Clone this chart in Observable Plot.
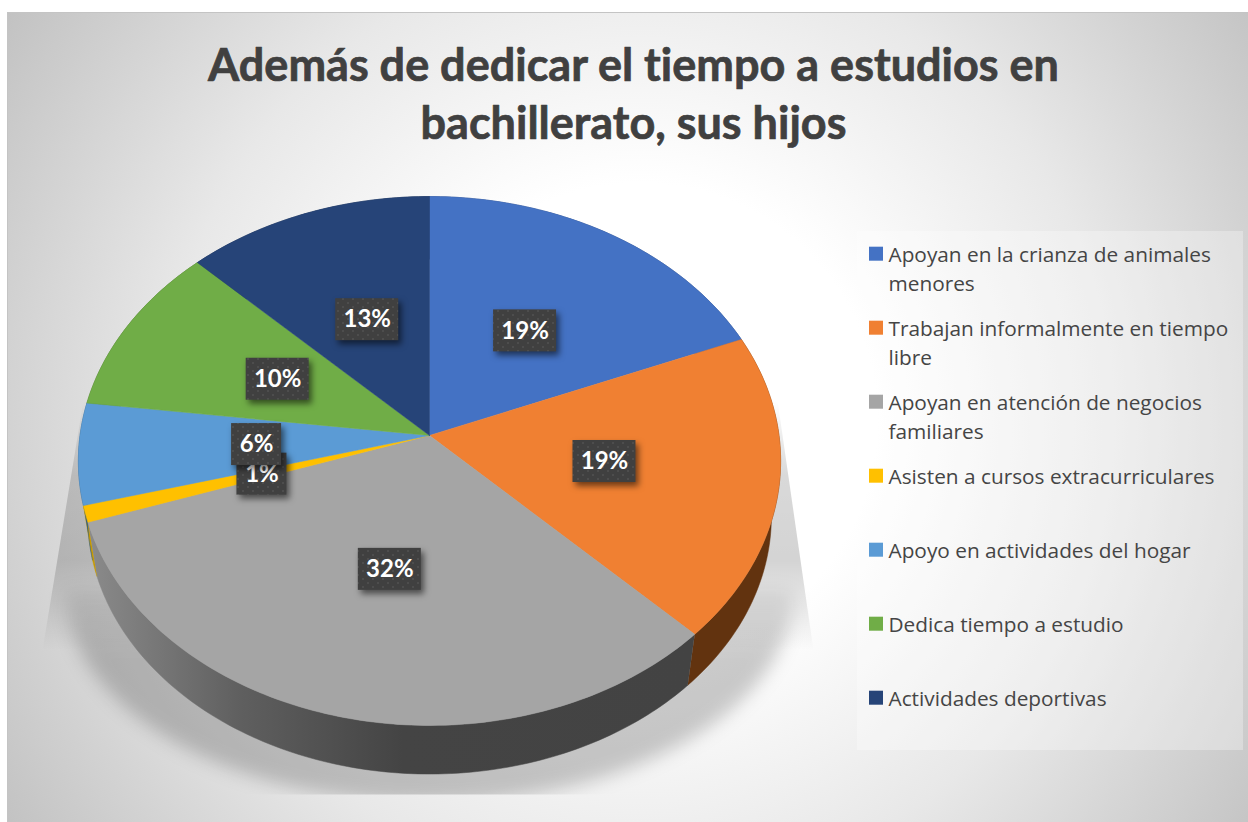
<!DOCTYPE html>
<html lang="es">
<head>
<meta charset="utf-8">
<title>Además de dedicar el tiempo a estudios en bachillerato, sus hijos</title>
<script src="https://cdn.jsdelivr.net/npm/d3@7"></script>
<script src="https://cdn.jsdelivr.net/npm/@observablehq/plot@0.6"></script>
<style>
  html, body { margin: 0; padding: 0; background: #fff; }
  svg { display: block; }
  svg text { font-variant-ligatures: none; }
</style>
</head>
<body>
<div id="chart"></div>
<script>
const titleLines = ["Además de dedicar el tiempo a estudios en", "bachillerato, sus hijos"];
const categories = [
  "Apoyan en la crianza de animales\nmenores",
  "Trabajan informalmente en tiempo\nlibre",
  "Apoyan en atención de negocios\nfamiliares",
  "Asisten a cursos extracurriculares",
  "Apoyo en actividades del hogar",
  "Dedica tiempo a estudio",
  "Actividades deportivas"
];
const shares = [18.8, 18.7, 32.3, 1.0, 6.2, 10.45, 12.55];
const topColors = ["#4472c4", "#f08032", "#a5a5a5", "#ffc000", "#5b9bd5", "#70ad47", "#264478"];
const wallColors = ["#2a4477", "#62330f", "url(#wallGray)", "#c79a00", "#37607f", "#446a2b", "#172a4a"];

// Pie geometry (chart units = pixels through identity scales)
const W = 1248, H = 822;
const cx = 429, cy = 435, R = 349.5, S = 262, k = 0.0964;
const wallScale = 0.9736, vanish = 2566;

const planar = (deg, r = 1) => {
  const a = deg * Math.PI / 180, u = r * Math.sin(a), v = -r * Math.cos(a), w = 1 / (1 - k * v);
  return {x: cx + R * u * w, y: cy + S * v * w};
};
const top3d = (deg) => planar(deg);
const bottom3d = (deg) => {
  const p = top3d(deg);
  return {x: cx + (p.x - cx) * wallScale, y: vanish + (p.y - vanish) * wallScale};
};
const arc = (a0, a1, f) => {
  const n = Math.max(2, Math.ceil(Math.abs(a1 - a0)));
  return d3.range(n + 1).map(i => f(a0 + (a1 - a0) * i / n));
};

let acc = 0;
const slices = shares.map((s, i) => {
  const a0 = acc * 3.6; acc += s; const a1 = acc * 3.6;
  return {
    i, a0, a1, mid: (a0 + a1) / 2, share: s, name: categories[i],
    label: Math.round(s) + "%", color: topColors[i], wall: wallColors[i]
  };
});

const defs = () => d3.create("svg:defs").html(`
  <radialGradient id="bg" gradientUnits="userSpaceOnUse" cx="640" cy="420" r="790">
    <stop offset="0.30" stop-color="#ffffff"/>
    <stop offset="0.60" stop-color="#e8e8e8"/>
    <stop offset="1" stop-color="#bdbdbd"/>
  </radialGradient>
  <linearGradient id="wallGray" gradientUnits="userSpaceOnUse" x1="90" x2="690" y1="0" y2="0">
    <stop offset="0" stop-color="#8a8a8a"/>
    <stop offset="0.25" stop-color="#5f5f5f"/>
    <stop offset="0.52" stop-color="#444444"/>
    <stop offset="1" stop-color="#434343"/>
  </linearGradient>
  <linearGradient id="shadowFade" gradientUnits="userSpaceOnUse" x1="0" x2="0" y1="400" y2="650">
    <stop offset="0" stop-color="#000" stop-opacity="0"/>
    <stop offset="0.3" stop-color="#000" stop-opacity="0.15"/>
    <stop offset="0.64" stop-color="#000" stop-opacity="0.17"/>
    <stop offset="1" stop-color="#000" stop-opacity="0"/>
  </linearGradient>
  <linearGradient id="bowlFade" gradientUnits="userSpaceOnUse" x1="0" x2="0" y1="560" y2="650">
    <stop offset="0" stop-color="#000" stop-opacity="0"/>
    <stop offset="1" stop-color="#000" stop-opacity="0.2"/>
  </linearGradient>
  <pattern id="dots" patternUnits="userSpaceOnUse" width="10" height="8">
    <rect width="10" height="8" fill="#404040"/>
    <rect x="2" y="2" width="2" height="2" fill="#4d4d4d"/>
    <rect x="7" y="6" width="2" height="2" fill="#4d4d4d"/>
  </pattern>
  <clipPath id="shadowClip"><rect x="0" y="0" width="${W}" height="794"/></clipPath>
`).node();

const clipToFloor = (index, scales, values, dimensions, context, next) => {
  const g = next(index, scales, values, dimensions, context);
  g.setAttribute("clip-path", "url(#shadowClip)");
  return g;
};

// Floor shadow: a crisp fading upper trapezoid and a blurred lower bowl
const shadowSides = [
  {x: cx - 346, y: 400}, {x: cx - 387, y: 650}, {x: cx + 384, y: 650}, {x: cx + 348, y: 400}
];
const shadowBowl = arc(270, 90, d => {
  const a = d * Math.PI / 180;
  return {x: cx + 364 * Math.sin(a), y: 590 - 212 * Math.cos(a)};
});

const labelMarks = slices.flatMap(d => {
  const p = planar(d.mid, 0.5);
  const lx = p.x + 2, ly = p.y;
  const hw = d.label.length > 2 ? 31.5 : 25;
  return [
    Plot.rect([d], {
      x1: () => lx - hw, x2: () => lx + hw, y1: () => ly - 21, y2: () => ly + 21,
      fill: "url(#dots)", imageFilter: "drop-shadow(3px 4px 3px rgba(0,0,0,0.55))"
    }),
    Plot.text([d], {
      x: () => lx, y: () => ly, text: "label", fill: "#fff", fontSize: 24, fontWeight: 700,
      fontFamily: "Lato, 'Open Sans', sans-serif"
    })
  ];
});

const chart = Plot.plot({
  width: W, height: H, margin: 0,
  x: {domain: [0, W], range: [0, W], axis: null},
  y: {domain: [0, H], range: [0, H], axis: null},
  style: {background: "transparent"},
  marks: [
    defs,
    Plot.rect([0], {x1: () => 7.5, x2: () => W + 2, y1: () => 12.5, y2: () => H + 2, fill: "url(#bg)", stroke: "#c4c4c4", strokeWidth: 1}),
    // legend panel
    Plot.rect([0], {x1: () => 857, x2: () => 1243, y1: () => 231, y2: () => 750, fill: "#fff", fillOpacity: 0.3}),
    Plot.line(shadowSides, {x: "x", y: "y", fill: "url(#shadowFade)", stroke: "none"}),
    Plot.line(shadowBowl, {x: "x", y: "y", fill: "url(#bowlFade)", stroke: "none", imageFilter: "blur(9px)", render: clipToFloor}),
    // side walls
    ...slices.map(d => Plot.line(
      [...arc(d.a0, d.a1, top3d), ...arc(d.a1, d.a0, bottom3d)],
      {x: "x", y: "y", fill: d.wall, stroke: d.wall, strokeWidth: 0.5}
    )),
    // top faces
    ...slices.map(d => Plot.line(
      [{x: cx, y: cy}, ...arc(d.a0, d.a1, top3d), {x: cx, y: cy}],
      {x: "x", y: "y", fill: d.color, stroke: d.color, strokeWidth: 0.5}
    )),
    ...labelMarks,
    // title
    Plot.text(titleLines, {
      x: () => 633, y: (d, i) => 66 + i * 58, text: d => d,
      fontSize: 45, fontWeight: 700, fill: "#404040", stroke: "#404040", strokeWidth: 0.7, fontFamily: "Lato, sans-serif"
    }),
    // legend
    Plot.rect(slices, {
      x1: () => 869, x2: () => 883,
      y1: d => 246.7 + d.i * 74, y2: d => 260.7 + d.i * 74,
      fill: d => d.color
    }),
    Plot.text(slices, {
      x: () => 888, y: d => 240.5 + d.i * 74, text: "name", textAnchor: "start", lineAnchor: "top",
      fontSize: 20.8, lineHeight: 29 / 20.8, fill: "#454545", fontFamily: "'Open Sans', sans-serif"
    })
  ],
  color: {type: "identity"}
});
document.getElementById("chart").append(chart);
</script>
</body>
</html>
